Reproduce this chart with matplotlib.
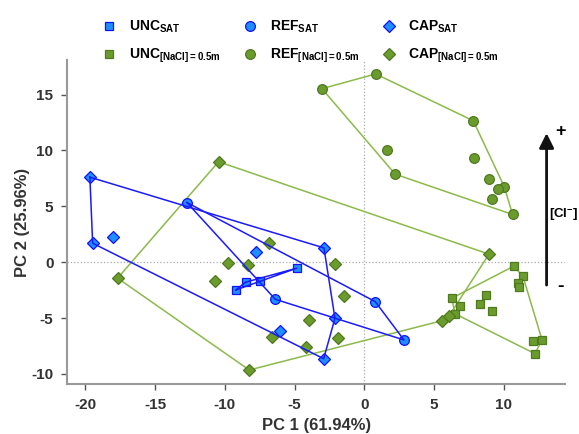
import numpy as np
import matplotlib
matplotlib.use('Agg')
import matplotlib.pyplot as plt
from matplotlib.lines import Line2D

plt.rcParams['font.family'] = ['Liberation Sans', 'DejaVu Sans']
plt.rcParams['mathtext.fontset'] = 'custom'
plt.rcParams['mathtext.rm'] = 'Liberation Sans'
plt.rcParams['mathtext.bf'] = 'Liberation Sans:bold'
plt.rcParams['axes.unicode_minus'] = False

# PCA scores (PC1, PC2)
unc_sat_x = [-9.20, -8.51, -7.50, -4.85]
unc_sat_y = [-2.48, -1.79, -1.68, -0.54]

ref_sat_x = [-12.72, -6.38, 0.79, 2.85]
ref_sat_y = [5.34, -3.32, -3.53, -6.96]

cap_sat_x = [-19.68, -19.48, -18.00, -7.79, -2.89, -2.10, -6.07, -2.91]
cap_sat_y = [7.61, 1.70, 2.29, 0.92, 1.28, -5.02, -6.13, -8.64]

unc_nacl_x = [10.72, 11.38, 11.03, 11.10, 6.27, 6.84, 6.53, 8.71, 8.28, 9.18, 12.08, 12.75, 12.25]
unc_nacl_y = [-0.36, -1.25, -1.83, -2.19, -3.23, -3.92, -4.63, -2.90, -3.74, -4.36, -7.05, -6.94, -8.19]

ref_nacl_x = [-3.03, 0.82, 7.82, 1.65, 2.22, 7.85, 8.92, 10.04, 9.57, 9.16, 10.64]
ref_nacl_y = [15.53, 16.85, 12.66, 10.06, 7.88, 9.37, 7.46, 6.77, 6.51, 5.67, 4.27]

cap_nacl_x = [-10.45, -17.69, -8.25, -9.78, -10.73, -8.32, -6.84, -2.12, -1.43, -3.97,
              -1.87, -4.20, -6.62, 5.60, 6.10, 8.95]
cap_nacl_y = [8.99, -1.43, -9.65, -0.03, -1.70, -0.27, 1.73, -0.13, -3.02, -5.14,
              -6.76, -7.62, -6.72, -5.23, -4.78, 0.72]


def hull(xs, ys):
    # convex hull (monotone chain), closed
    pts = sorted(set(zip(xs, ys)))

    def cross(o, a, b):
        return (a[0] - o[0]) * (b[1] - o[1]) - (a[1] - o[1]) * (b[0] - o[0])

    lower = []
    for p in pts:
        while len(lower) >= 2 and cross(lower[-2], lower[-1], p) <= 0:
            lower.pop()
        lower.append(p)
    upper = []
    for p in reversed(pts):
        while len(upper) >= 2 and cross(upper[-2], upper[-1], p) <= 0:
            upper.pop()
        upper.append(p)
    h = lower[:-1] + upper[:-1]
    h.append(h[0])
    return [p[0] for p in h], [p[1] for p in h]


blue_fill = '#1e8fff'
blue_edge = '#1010ff'
blue_line = '#1a1aff'
green_fill = '#6b9b2c'
green_edge = '#4f7a1f'
green_line = '#8cba4a'

groups = [
    (unc_sat_x, unc_sat_y, 's', 6, blue_fill, blue_edge, blue_line, 'UNC$_\\mathbf{SAT}$'),
    (unc_nacl_x, unc_nacl_y, 's', 6, green_fill, green_edge, green_line, 'UNC$_\\mathbf{[NaCl]=0.5m}$'),
    (ref_sat_x, ref_sat_y, 'o', 7, blue_fill, blue_edge, blue_line, 'REF$_\\mathbf{SAT}$'),
    (ref_nacl_x, ref_nacl_y, 'o', 7, green_fill, green_edge, green_line, 'REF$_\\mathbf{[NaCl]=0.5m}$'),
    (cap_sat_x, cap_sat_y, 'D', 6.5, blue_fill, blue_edge, blue_line, 'CAP$_\\mathbf{SAT}$'),
    (cap_nacl_x, cap_nacl_y, 'D', 6.5, green_fill, green_edge, green_line, 'CAP$_\\mathbf{[NaCl]=0.5m}$'),
]

fig = plt.figure(figsize=(5.79, 4.34), dpi=100)
ax = fig.add_axes([0.1162, 0.1145, 0.8596, 0.7473])

ax.axhline(0, color='#aaaaaa', ls=':', lw=0.9, zorder=1)
ax.axvline(0, color='#aaaaaa', ls=':', lw=0.9, zorder=1)

handles = []
for xs, ys, mk, ms, fc, ec, lc, lab in groups:
    hx, hy = hull(xs, ys)
    lz = 4 if lc == blue_line else 2
    ax.plot(hx, hy, color=lc, lw=1.1, zorder=lz)
    ax.plot(xs, ys, ls='none', marker=mk, ms=ms, mfc=fc, mec=ec, mew=0.9, zorder=3)
    handles.append(Line2D([], [], ls='none', marker=mk, ms=ms, mfc=fc, mec=ec, mew=0.9, label=lab))

ax.set_xlim(-21.3, 14.4)
ax.set_ylim(-10.93, 18.1)
ax.set_xticks([-20, -15, -10, -5, 0, 5, 10])
ax.set_yticks([-10, -5, 0, 5, 10, 15])

for s in ['top', 'right']:
    ax.spines[s].set_visible(False)
for s in ['left', 'bottom']:
    ax.spines[s].set_color('#999999')
    ax.spines[s].set_linewidth(1.5)
ax.tick_params(direction='out', length=4, width=1, color='#555555', labelsize=11, pad=6,
               labelcolor='#333333')
for t in ax.get_xticklabels() + ax.get_yticklabels():
    t.set_fontweight('bold')

ax.set_xlabel('PC 1 (61.94%)', fontsize=12, fontweight='bold', color='#333333', labelpad=4)
ax.set_ylabel('PC 2 (25.96%)', fontsize=12, fontweight='bold', color='#333333', labelpad=1)

# [Cl-] arrow
ax.annotate('', xy=(13.08, 11.8), xytext=(13.08, -2.3),
            arrowprops=dict(arrowstyle='-|>', lw=2, color='#111111', mutation_scale=22),
            annotation_clip=False)
ax.text(14.1, 11.7, '+', fontsize=13, fontweight='bold', ha='center', va='center', clip_on=False)
ax.text(14.05, -2.2, '-', fontsize=14, fontweight='bold', ha='center', va='center', clip_on=False)
ax.text(13.25, 4.2, '[Cl$^{\\mathbf{-}}$]', fontsize=9.5, fontweight='bold', ha='left', va='center',
        clip_on=False)

fig.legend(handles=handles, ncol=3, loc='upper left', bbox_to_anchor=(0.155, 0.985),
           frameon=False, prop={'weight': 'bold', 'size': 10}, columnspacing=1.65,
           handletextpad=0.9, labelspacing=0.8, handlelength=1.0)

fig.savefig('out.png', dpi=100)
